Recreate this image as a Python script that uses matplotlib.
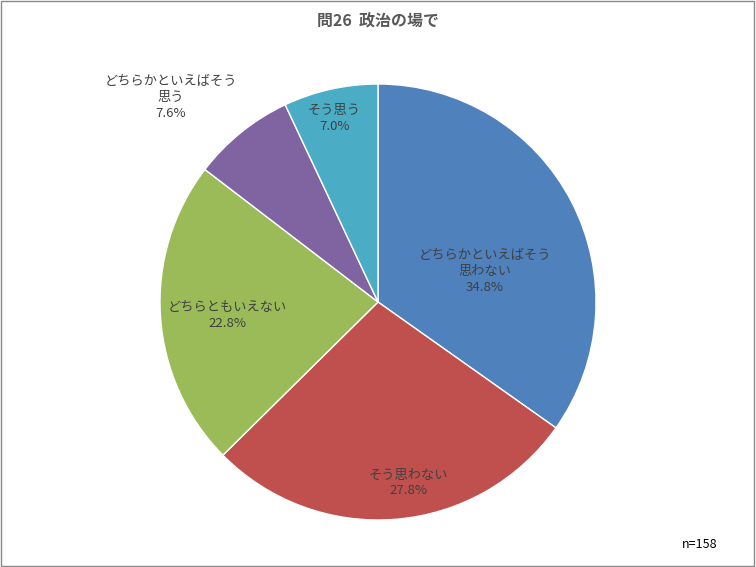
import matplotlib
matplotlib.use("Agg")
import matplotlib.pyplot as plt
from matplotlib.patches import Rectangle

plt.rcParams['font.family'] = ['Noto Sans CJK JP', 'DejaVu Sans']

labels = ["どちらかといえばそう\n思わない", "そう思わない", "どちらともいえない", "どちらかといえばそう\n思う", "そう思う"]
values = [34.8, 27.8, 22.8, 7.6, 7.0]
colors = ["#4F81BD", "#C0504D", "#9BBB59", "#8064A2", "#4BACC6"]
label_pos = [(0.49, 0.14), (0.14, -0.83), (-0.69, -0.06), (-0.95, 0.94), (-0.20, 0.84)]

fig = plt.figure(figsize=(7.56, 5.67), dpi=100)
fig.patches.append(Rectangle((0.001, 0.001), 0.997, 0.997, transform=fig.transFigure,
                             fill=False, edgecolor="#898989", linewidth=1))
ax = fig.add_axes([160/756, 47/567, 436/756, 436/567])
ax.pie(values, colors=colors, startangle=90, counterclock=False,
       wedgeprops=dict(edgecolor="white", linewidth=1))
ax.set_xlim(-1, 1); ax.set_ylim(-1, 1)
ax.set_aspect('equal')
ax.axis('off')
for lab, v, (x, y) in zip(labels, values, label_pos):
    ax.text(x, y, f"{lab}\n{v:.1f}%", ha="center", va="center", fontsize=9.5,
            color="#404040", linespacing=1.3, clip_on=False)
fig.text(0.5, 1 - 22/567, "問26  政治の場で", ha="center", va="center",
         fontsize=11.5, fontweight="bold", color="#595959")
fig.text(700/756, 1 - 545/567, "n=158", ha="center", va="center", fontsize=9, color="black")
fig.savefig("out.png", dpi=100)
